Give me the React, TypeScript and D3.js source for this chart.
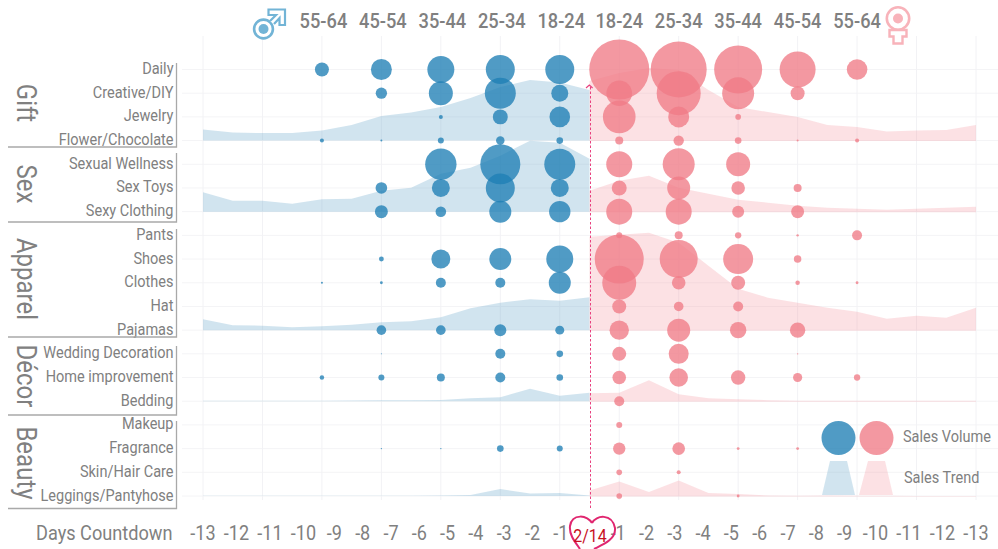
import React from "react";
import * as d3 from "d3";

const categories = ["Daily","Creative/DIY","Jewelry","Flower/Chocolate","Sexual Wellness","Sex Toys","Sexy Clothing","Pants","Shoes","Clothes","Hat","Pajamas","Wedding Decoration","Home improvement","Bedding","Makeup","Fragrance","Skin/Hair Care","Leggings/Pantyhose"];
const groups = [
  { name: "Gift", first: 0, last: 3 },
  { name: "Sex", first: 4, last: 6 },
  { name: "Apparel", first: 7, last: 11 },
  { name: "Décor", first: 12, last: 14 },
  { name: "Beauty", first: 15, last: 18 },
];
const ages = ["55-64","45-54","35-44","25-34","18-24"];

// Sales volume by age group 55-64 -> 18-24 (male), 18-24 -> 55-64 (female)
const maleVolume = [
  [49,110,182,210,210],
  [0,32,144,240,72],
  [0,0,4,56,106],
  [4,1,9,18,11],
  [0,0,246,400,240],
  [0,34,81,210,81],
  [0,42,28,121,114],
  [0,0,0,0,0],
  [0,6,90,121,182],
  [1,2,25,25,121],
  [0,0,0,0,0],
  [0,23,23,36,20],
  [0,0.25,0,25,11],
  [5,9,16,25,11],
  [0,0,0,0,0],
  [0,0,0,0,0],
  [0,0.5,0.5,11,9],
  [0,0,0,0,0],
  [0,0,0,0,0],
];
const femaleVolume = [
  [900,784,576,324,106],
  [164,484,256,49,0],
  [266,110,8,0,0],
  [16,27,11,1,4],
  [169,256,144,0,0],
  [56,132,46,16,0],
  [169,169,36,42,0],
  [9,16,10,1.4,25],
  [600,361,225,14,0],
  [289,46,49,5,2],
  [49,23,25,0,0],
  [94,132,67,59,0],
  [49,100,0,0.5,0],
  [46,86,52,21,10],
  [25,0,0,0,0],
  [9,0,0,0,0],
  [38,40,2,2,0],
  [8,4,0,0,0],
  [8,0,2,0,0],
];

// Sales trend by day, -13 -> 2/14 (male), 2/14 -> -13 (female)
const maleTrend = [
  [11,8,7.5,7.5,10,15.5,24.5,28,33.5,42.5,53.5,60.5,58,50.5],
  [19.5,11,11,8,12.5,13,21,24,38,44,56,71,69,53],
  [11,5,4.5,3,4,5.5,8,9,13,22,27.5,31,29.5,33],
  [0.5,0.5,0.5,0.5,0.5,0.7,1,1,1.2,3,4,12.5,5.5,8.5],
  [0.3,0.3,0.3,0.3,0.3,0.3,0.3,0.3,0.5,1,7,2.5,3,0.5],
];
const femaleTrend = [
  [60,68,73,71,51,34,29,24,16,14,9.5,10.5,11,16],
  [21.5,31.5,36.5,24.5,18.5,12.5,9.5,6.5,4.5,3.5,2.5,3.5,4.5,5.5],
  [94,96,98,88,65,42,33,28,23,19,12,15,13,23],
  [8.5,9,21.5,7.5,3.5,2.5,1.5,1,1,1,1,1,1,1],
  [6,15,4.5,16,3.5,2.5,1,0.7,1,0.7,0.7,0.5,0.5,0.5],
];
const trendBaseRow = [3,6,11,14,18];

const leftTicks = [-13,-12,-11,-10,-9,-8,-7,-6,-5,-4,-3,-2,-1];
const rightTicks = [-1,-2,-3,-4,-5,-6,-7,-8,-9,-10,-11,-12,-13];

const BLUE = "#1f7fb5", PINK = "#ef7b86", GREY = "#808080", FONT = "Roboto, sans-serif";
const x = d3.scaleLinear().domain([0, 26]).range([203, 976]);
const y = d3.scalePoint<number>().domain(categories.map((_, i) => i)).range([69.5, 496]);
const r = d3.scaleSqrt().domain([0, 900]).range([0, 30]);
const h = d3.scaleLinear().domain([0, 100]).range([0, 100]);

function T({ x: tx, y: ty, size, sx = 0.84, anchor = "start", fill = GREY, weight = 400, rot = 0, children }: any) {
  return (
    <text transform={`translate(${tx},${ty}) rotate(${rot}) scale(${sx},1)`} fontSize={size} textAnchor={anchor} fill={fill} fontWeight={weight} fontFamily={FONT}>{children}</text>
  );
}

const tickGap = (a: number, b: number) => 28.3 + 2.6 * ((Math.abs(a) > 9 ? 1 : 0) + (Math.abs(b) > 9 ? 1 : 0));
function tickPositions(ticks: number[], start: number, dir: number) {
  let p = start;
  return ticks.map((t, i) => {
    if (i > 0) p += dir * tickGap(ticks[i - 1], t);
    return p;
  });
}

export default function App() {
  const leftPos = tickPositions(leftTicks, x(0), 1);
  const rightPos = tickPositions([...rightTicks].reverse(), x(26), -1).reverse();
  const groupLabelY = [103, 184, 279, 376, 463];
  const groupLines: [number, number][] = [[63,147],[153,222],[229,337],[346,415],[421,508.5]];
  const trendArea = (base: number, offset: number) =>
    d3.area<number>().x((_, i) => x(i + offset)).y0(base).y1((d) => base - h(d));
  return (
    <svg width={998} height={549} viewBox="0 0 998 549" style={{ position: "absolute", left: 0, top: 0, display: "block", background: "#fff" }}>
      {/* grid */}
      {categories.map((_, i) => <line key={i} x1={182} x2={998} y1={y(i)} y2={y(i)} stroke="#f4f4f6" strokeWidth={1} />)}
      {d3.range(0, 27, 2).map((d) => <line key={d} x1={x(d)} x2={x(d)} y1={36} y2={500} stroke="#f2f2f5" strokeWidth={1} />)}

      {/* trend areas */}
      {maleTrend.map((s, i) => <path key={i} d={trendArea(y(trendBaseRow[i])!, 0)(s)!} fill="#6aa8ca" fillOpacity={0.31} />)}
      {femaleTrend.map((s, i) => <path key={i} d={trendArea(y(trendBaseRow[i])! + 0.5, 13)(s)!} fill="#f28a96" fillOpacity={0.26} />)}

      {/* volume bubbles */}
      {maleVolume.map((row, i) => row.map((v, j) => v > 0 && <circle key={`m${i}-${j}`} cx={x(4 + j * 2)} cy={y(i)} r={r(v)} fill={BLUE} fillOpacity={0.78} />))}
      {femaleVolume.map((row, i) => row.map((v, j) => v > 0 && <circle key={`f${i}-${j}`} cx={x(14 + j * 2)} cy={y(i)} r={r(v)} fill={PINK} fillOpacity={0.78} />))}

      {/* row labels */}
      {categories.map((c, i) => <T key={c} x={173.5} y={y(i)! + 4.5} size={16.5} sx={0.88} anchor="end">{c}</T>)}

      {/* group frames */}
      {groups.map((g, i) => (
        <g key={g.name}>
          <path d={`M176.5 ${groupLines[i][0]}V${groupLines[i][1]}H8`} fill="none" stroke="#a9a9a9" strokeWidth={1.3} />
          <T x={16.5} y={groupLabelY[i]} size={27} anchor="middle" rot={90} sx={0.89}>{g.name}</T>
        </g>
      ))}

      {/* age headers */}
      {ages.map((a, j) => <T key={`am${a}`} x={x(4 + j * 2) + 1.5} y={28} size={20.5} anchor="middle" sx={0.89} weight={500}>{a}</T>)}
      {[...ages].reverse().map((a, j) => <T key={`af${a}`} x={x(14 + j * 2)} y={28} size={20.5} anchor="middle" sx={0.89} weight={500}>{a}</T>)}

      {/* gender icons */}
      <circle cx={263.5} cy={29} r={9.4} fill="#fff" stroke="#72b4d6" strokeWidth={2.6} />
      <circle cx={263.5} cy={29} r={5} fill="#72b4d6" />
      <path d="M270 21L276 15H268.5V9.5H285V25H279.5V18L274 24" fill="#fff" stroke="#72b4d6" strokeWidth={2.2} />
      <circle cx={898} cy={18.5} r={11.2} fill="#fff" stroke="#f8b3ba" strokeWidth={2.6} />
      <circle cx={898} cy={18.5} r={5} fill="#f8b3ba" />
      <path d="M889.5 30H906.5V36.5H902.5V43.5H893.5V36.5H889.5Z" fill="#fff" stroke="#f8b3ba" strokeWidth={2.4} />

      {/* valentine marker */}
      <line x1={590.5} x2={590.5} y1={87} y2={510} stroke="#e8417f" strokeWidth={1} strokeDasharray="2.5 2" />
      <path d="M586 88L589.3 85L592.6 88" fill="none" stroke="#e8417f" strokeWidth={1.2} />

      {/* day axis */}
      <T x={36} y={540} size={21} sx={0.865}>Days Countdown</T>
      {leftTicks.map((t, i) => <T key={`l${i}`} x={leftPos[i]} y={540} size={20.5} anchor="middle" sx={0.88}>{`${t}`}</T>)}
      {rightTicks.map((t, i) => <T key={`r${i}`} x={rightPos[i]} y={540} size={20.5} anchor="middle" sx={0.88}>{`${t}`}</T>)}
      <path d="M592 523C588 515 572 513 570 526C569 535 575 542 580 549" fill="none" stroke="#e0266f" strokeWidth={2} />
      <path d="M592 523C596 515 612 513 615 528C616 540 602 545 594 549" fill="none" stroke="#e0266f" strokeWidth={2} />
      <T x={590} y={542} size={19} anchor="middle" fill="#c8101e" sx={0.84}>2/14</T>

      {/* legend */}
      <circle cx={838.5} cy={438} r={17} fill={BLUE} fillOpacity={0.78} />
      <circle cx={876.5} cy={438} r={17} fill={PINK} fillOpacity={0.78} />
      <path d="M830 461H847L855 495H822Z" fill="#6aa8ca" fillOpacity={0.31} />
      <path d="M868 461H885L893 495H859Z" fill="#f28a96" fillOpacity={0.26} />
      <T x={903} y={441.5} size={16.5} sx={0.88}>Sales Volume</T>
      <T x={904} y={483} size={16.5} sx={0.88}>Sales Trend</T>
    </svg>
  );
}
